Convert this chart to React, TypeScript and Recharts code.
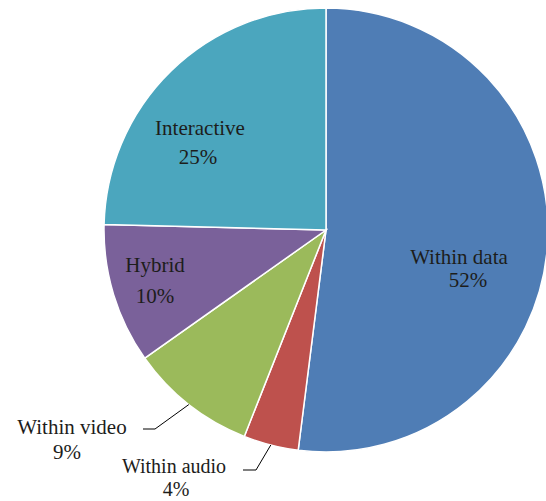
import React from "react";
import { PieChart, Pie, Cell } from "recharts";

const categories = ["Within data", "Within audio", "Within video", "Hybrid", "Interactive"];
const shares = [52, 4, 9.2, 10.2, 24.6];
const shareLabels = ["52%", "4%", "9%", "10%", "25%"];

const COLORS = ["#4F7DB5", "#BE514D", "#9BBA5B", "#7A619A", "#4BA6BE"];

// label placement, offsets relative to pie centre (px, for radius 222)
const placement = [
  { l1: [133, 27], l2: [142, 50], fs: 21 },
  { l1: [-152, 235.5], l2: [-150, 259], elbow: [-70, 240], end: [-83, 240], fs: 20 },
  { l1: [-254, 197], l2: [-259, 222], elbow: [-171, 199], end: [-183, 199], fs: 21 },
  { l1: [-171, 35], l2: [-171, 66], fs: 21 },
  { l1: [-126, -102], l2: [-128, -73], fs: 21 },
];

const data = categories.map((name, i) => ({ name, value: shares[i], pct: shareLabels[i] }));

const RAD = Math.PI / 180;

const renderLabel = (props: any) => {
  const { cx, cy, midAngle, outerRadius, index } = props;
  const p = placement[index];
  const s = outerRadius / 222;
  const textStyle = { fontFamily: "'Liberation Serif', serif", fontSize: p.fs, fill: "#1d1d1b" };
  let line = null;
  if (p.elbow) {
    const sx = cx + Math.cos(-midAngle * RAD) * outerRadius;
    const sy = cy + Math.sin(-midAngle * RAD) * outerRadius;
    const ex = cx + p.elbow[0] * s;
    const ey = cy + p.elbow[1] * s;
    const fx = cx + p.end[0] * s;
    const fy = cy + p.end[1] * s;
    line = (
      <polyline
        points={`${sx},${sy} ${ex},${ey} ${fx},${fy}`}
        fill="none"
        stroke="#000"
        strokeWidth={1}
      />
    );
  }
  return (
    <g key={`lbl-${index}`}>
      {line}
      <text x={cx + p.l1[0] * s} y={cy + p.l1[1] * s} textAnchor="middle" dominantBaseline="central" style={textStyle}>
        {categories[index]}
      </text>
      <text x={cx + p.l2[0] * s} y={cy + p.l2[1] * s} textAnchor="middle" dominantBaseline="central" style={textStyle}>
        {shareLabels[index]}
      </text>
    </g>
  );
};

export default function App() {
  return (
    <div style={{ position: "absolute", left: 0, top: 0, background: "#fff" }}>
      <PieChart width={546} height={501} margin={{ top: 0, right: 0, bottom: 0, left: 0 }}>
        <Pie
          data={data}
          dataKey="value"
          nameKey="name"
          cx={326}
          cy={230}
          outerRadius={222}
          startAngle={90}
          endAngle={-270}
          stroke="#ffffff"
          strokeWidth={1.5}
          label={renderLabel}
          labelLine={false}
          isAnimationActive={false}
        >
          {data.map((d, i) => (
            <Cell key={d.name} fill={COLORS[i]} />
          ))}
        </Pie>
      </PieChart>
    </div>
  );
}
